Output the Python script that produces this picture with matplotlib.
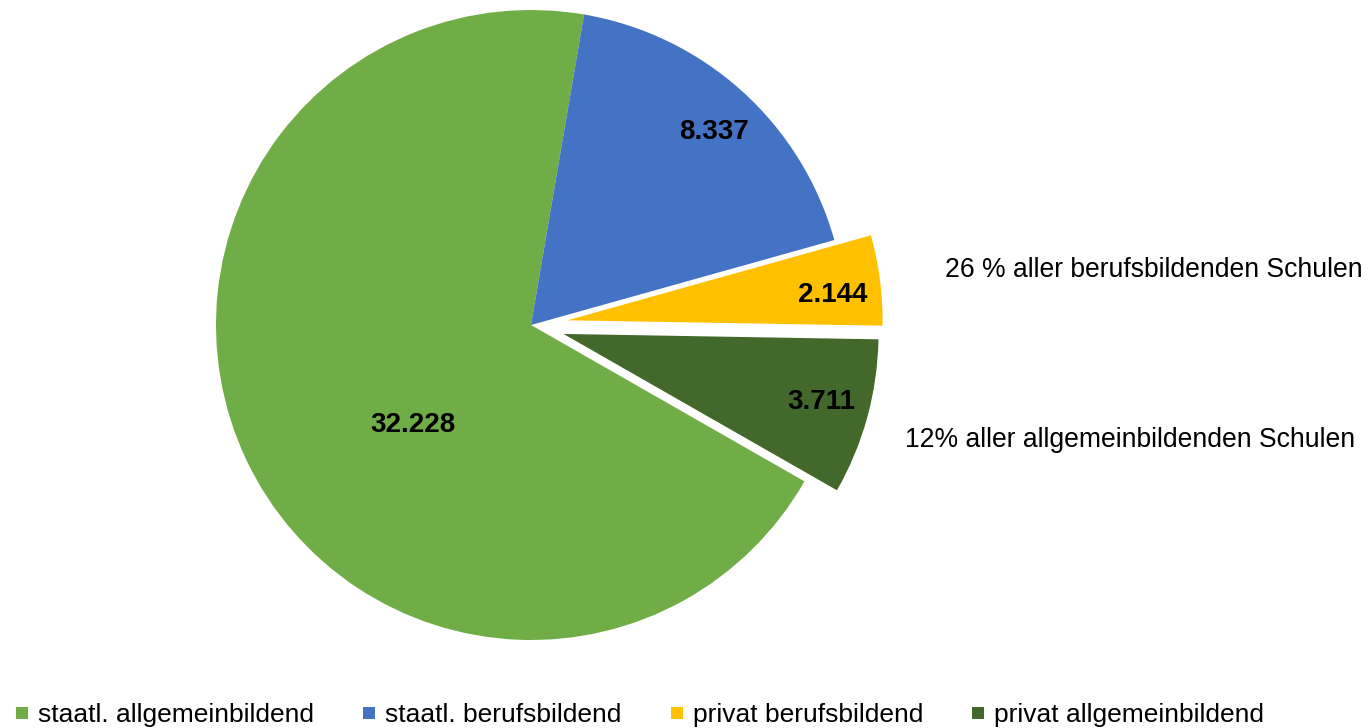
"""Pie chart: Schüler nach Schulart (staatlich / privat)."""

import matplotlib.pyplot as plt
import numpy as np
from matplotlib.lines import Line2D

plt.rcParams["font.family"] = ["Liberation Sans", "DejaVu Sans"]

categories = [
    "staatl. allgemeinbildend",
    "staatl. berufsbildend",
    "privat berufsbildend",
    "privat allgemeinbildend",
]
values = [32228, 8337, 2144, 3711]
colors = ["#70AD47", "#4472C4", "#FFC000", "#43682B"]
explode = [0.0, 0.0, 0.117, 0.107]
notes = ["26 % aller berufsbildenden Schulen", "12% aller allgemeinbildenden Schulen"]

W, H = 1369, 728
CX, CY, R = 531, 325, 315

fig = plt.figure(figsize=(W / 100, H / 100), dpi=100)
ax = fig.add_axes([0, 0, 1, 1])

wedges, _ = ax.pie(
    values,
    colors=colors,
    explode=explode,
    startangle=-29.76,
    counterclock=False,
    radius=1.0,
    wedgeprops={"linewidth": 0},
)
ax.set_aspect("auto")
ax.set_xlim(-CX / R, (W - CX) / R)
ax.set_ylim(-(H - CY) / R, CY / R)
ax.axis("off")

# value labels, radius fraction and angle tweak per slice
label_r = [0.49, 0.845, 0.845, 0.845]
label_dang = [15.0, -1.5, -1.9, 0.6]
for wedge, val, lr, da in zip(wedges, values, label_r, label_dang):
    mid = np.deg2rad((wedge.theta1 + wedge.theta2) / 2 + da)
    cx, cy = wedge.center
    ax.text(
        cx + lr * np.cos(mid),
        cy + lr * np.sin(mid),
        f"{val:,.0f}".replace(",", "."),
        ha="center",
        va="center",
        fontsize=20,
        fontweight="bold",
        color="black",
    )

fig.text(945 / W, 1 - 270 / H, notes[0], ha="left", va="center", fontsize=19.1)
fig.text(905 / W, 1 - 440 / H, notes[1], ha="left", va="center", fontsize=19.1)

handles = [
    Line2D([], [], linestyle="none", marker="s", markersize=8.5, color=c, markeredgewidth=0)
    for c in colors
]
fig.legend(
    handles,
    categories,
    loc="center left",
    bbox_to_anchor=(14 / W, 13 / H),
    ncol=4,
    frameon=False,
    fontsize=19,
    handlelength=0.6,
    handletextpad=0.3,
    columnspacing=1.8,
    borderpad=0,
    borderaxespad=0,
)

fig.savefig("out.png", dpi=100)
